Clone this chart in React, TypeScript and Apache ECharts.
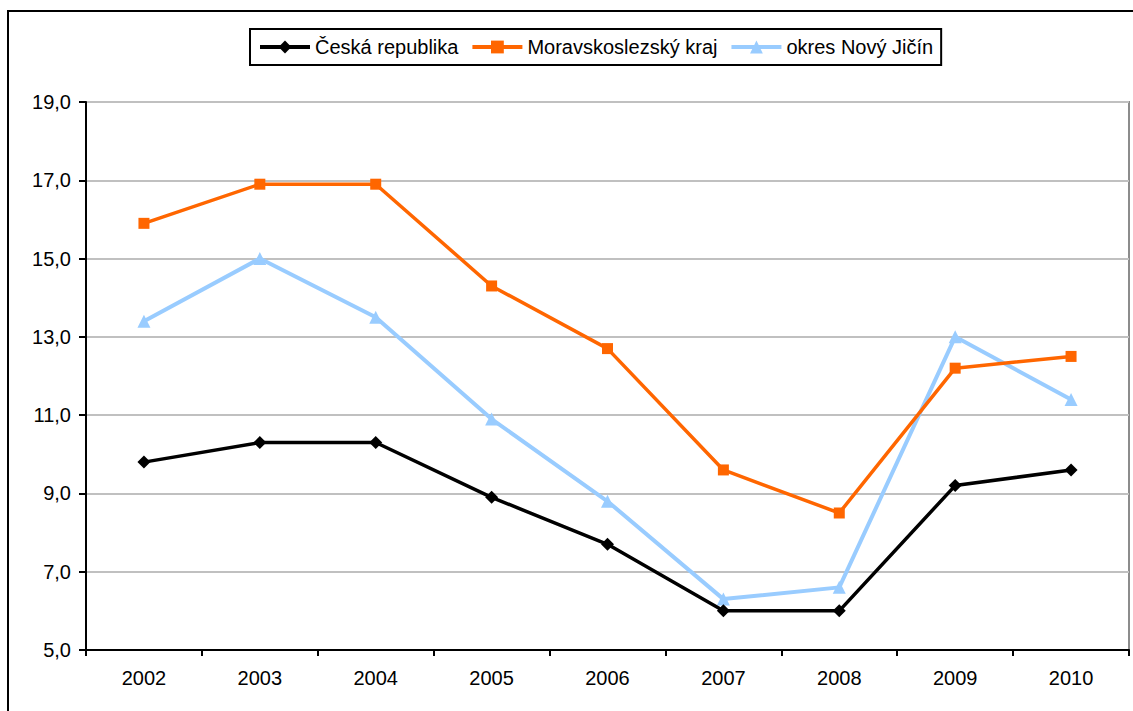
import React, { useEffect, useRef } from "react";
import * as echarts from "echarts";

const years = ["2002", "2003", "2004", "2005", "2006", "2007", "2008", "2009", "2010"];
const ceskaRepublika = [9.8, 10.3, 10.3, 8.9, 7.7, 6.0, 6.0, 9.2, 9.6];
const moravskoslezsky = [15.9, 16.9, 16.9, 14.3, 12.7, 9.6, 8.5, 12.2, 12.5];
const novyJicin = [13.4, 15.0, 13.5, 10.9, 8.8, 6.3, 6.6, 13.0, 11.4];
const seriesNames = ["Česká republika", "Moravskoslezský kraj", "okres Nový Jičín"];

const FONT = "'Liberation Sans', Arial, sans-serif";

export default function App() {
  const ref = useRef<HTMLDivElement>(null);
  useEffect(() => {
    if (!ref.current) return;
    const chart = echarts.init(ref.current, undefined, { renderer: "svg" });
    chart.setOption({
      animation: false,
      backgroundColor: "#fff",
      textStyle: { fontFamily: FONT },
      graphic: [
        {
          type: "rect",
          shape: { x: 8, y: 11, width: 1140, height: 720 },
          style: { fill: "none", stroke: "#000", lineWidth: 2 },
          silent: true,
        },
      ],
      legend: {
        left: 250,
        top: 29,
        padding: [8, 8],
        itemWidth: 50,
        itemHeight: 16,
        itemGap: 12,
        borderColor: "#000",
        borderWidth: 2,
        lineStyle: { width: 4 },
        textStyle: { fontFamily: FONT, fontSize: 20, color: "#000" },
        data: seriesNames,
      },
      grid: {
        left: 86,
        right: 4,
        top: 102,
        bottom: 61,
        show: true,
        borderColor: "#8c8c8c",
        borderWidth: 2,
        backgroundColor: "transparent",
      },
      xAxis: {
        type: "category",
        data: years,
        boundaryGap: true,
        axisLine: { lineStyle: { color: "#000", width: 2 } },
        axisTick: { show: true, alignWithLabel: false, length: 6, lineStyle: { color: "#000", width: 2 } },
        axisLabel: { margin: 18, fontSize: 20, color: "#000", fontFamily: FONT },
        splitLine: { show: false },
      },
      yAxis: {
        type: "value",
        min: 5,
        max: 19,
        interval: 2,
        axisLine: { show: true, lineStyle: { color: "#000", width: 2 } },
        axisTick: { show: true, length: 7, lineStyle: { color: "#000", width: 2 } },
        axisLabel: {
          margin: 15,
          fontSize: 20,
          color: "#000",
          fontFamily: FONT,
          formatter: (v: number) => v.toFixed(1).replace(".", ","),
        },
        splitLine: { show: true, lineStyle: { color: "#c0c0c0", width: 2 } },
      },
      series: [
        {
          name: seriesNames[0],
          type: "line",
          data: ceskaRepublika,
          symbol: "diamond",
          symbolSize: 13,
          lineStyle: { color: "#000", width: 3.5 },
          itemStyle: { color: "#000" },
          z: 4,
        },
        {
          name: seriesNames[1],
          type: "line",
          data: moravskoslezsky,
          symbol: "rect",
          symbolSize: 11,
          lineStyle: { color: "#ff6600", width: 3.5 },
          itemStyle: { color: "#ff6600" },
          z: 3,
        },
        {
          name: seriesNames[2],
          type: "line",
          data: novyJicin,
          symbol: "triangle",
          symbolSize: 13,
          lineStyle: { color: "#99ccff", width: 4 },
          itemStyle: { color: "#99ccff" },
          z: 2,
        },
      ],
    });
    return () => chart.dispose();
  }, []);
  return (
    <div
      ref={ref}
      style={{ position: "absolute", left: 0, top: 0, width: 1133, height: 711 }}
    />
  );
}
